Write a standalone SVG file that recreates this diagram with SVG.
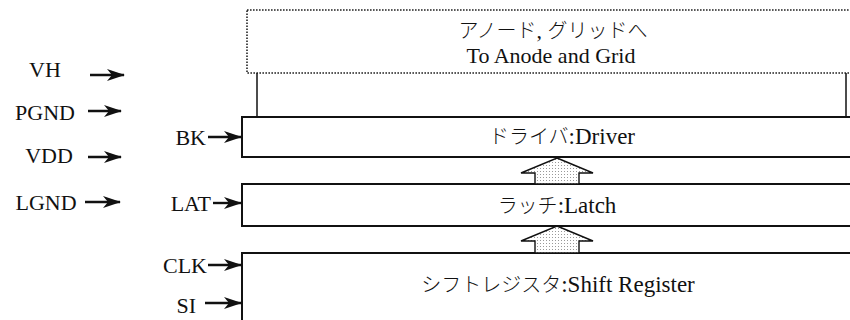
<svg xmlns="http://www.w3.org/2000/svg" width="850" height="320" viewBox="0 0 850 320">
  <style>
    .t { font-family: "Liberation Serif", "Noto Sans CJK JP", serif; font-size: 22px; fill: #111; }
    .b { font-size: 23px; }
    .jp { font-family: "Noto Sans CJK JP", sans-serif; font-size: 20px; font-weight: 300; }
    .box { fill: #fff; stroke: #111; stroke-width: 2; }
    .dot { fill: #fff; stroke: #222; stroke-width: 1.6; stroke-dasharray: 1.6 1.4; }
    .wire { fill: none; stroke: #111; stroke-width: 1.5; }
    .in { fill: none; stroke: #111; stroke-width: 2.4; marker-end: url(#ah); }
    .fat { fill: url(#dots); stroke: #111; stroke-width: 1.4; }
  </style>
  <defs>
    <marker id="ah" viewBox="0 0 18 12" refX="17" refY="6" markerWidth="18" markerHeight="12" markerUnits="userSpaceOnUse" orient="auto">
      <path d="M0,0 L18,6 L0,12 L5,6 z" fill="#111"/>
    </marker>
    <pattern id="dots" width="3" height="3" patternUnits="userSpaceOnUse">
      <rect width="3" height="3" fill="#fff"/>
      <rect width="1" height="1" fill="#999"/>
    </pattern>
  </defs>

  <g id="output">
    <rect class="dot" x="247" y="10" width="610" height="63"/>
    <text class="t" x="553" y="38" text-anchor="middle"><tspan class="jp">アノード</tspan>, <tspan class="jp">グリッドへ</tspan></text>
    <text class="t" x="551" y="63" text-anchor="middle">To Anode and Grid</text>
  </g>

  <g id="driver">
    <rect class="box" x="242" y="117" width="620" height="40"/>
    <text class="t b" x="562" y="144" text-anchor="middle"><tspan class="jp">ドライバ</tspan>:Driver</text>
  </g>

  <g id="latch">
    <rect class="box" x="242" y="184" width="620" height="42"/>
    <text class="t b" x="557" y="213" text-anchor="middle"><tspan class="jp">ラッチ</tspan>:Latch</text>
  </g>

  <g id="shift">
    <rect class="box" x="242" y="253" width="620" height="80"/>
    <text class="t b" x="558" y="292" text-anchor="middle"><tspan class="jp">シフトレジスタ</tspan>:Shift Register</text>
  </g>

  <g id="labels">
    <text class="t" x="45" y="77" text-anchor="middle">VH</text>
    <text class="t" x="45" y="120" text-anchor="middle">PGND</text>
    <text class="t" x="49" y="163" text-anchor="middle">VDD</text>
    <text class="t" x="46" y="210" text-anchor="middle">LGND</text>
    <text class="t" x="206" y="145" text-anchor="end">BK</text>
    <text class="t" x="211" y="211" text-anchor="end">LAT</text>
    <text class="t" x="207" y="273" text-anchor="end">CLK</text>
    <text class="t" x="196" y="313" text-anchor="end">SI</text>
  </g>

  <g id="connectors">
    <line class="wire" x1="257" y1="73" x2="257" y2="117"/>
    <line class="wire" x1="846" y1="73" x2="846" y2="117"/>
    <polygon class="fat" points="557,158 593,173 579,173 579,184 535,184 535,173 521,173"/>
    <polygon class="fat" points="557,226 593,241 579,241 579,253 535,253 535,241 521,241"/>
    <line class="in" x1="90" y1="75" x2="124" y2="75"/>
    <line class="in" x1="88" y1="111" x2="121" y2="111"/>
    <line class="in" x1="88" y1="157" x2="121" y2="157"/>
    <line class="in" x1="85" y1="202" x2="120" y2="202"/>
    <line class="in" x1="208" y1="137" x2="241" y2="137"/>
    <line class="in" x1="213" y1="203" x2="241" y2="203"/>
    <line class="in" x1="208" y1="265" x2="241" y2="265"/>
    <line class="in" x1="205" y1="303" x2="241" y2="303"/>
  </g>
</svg>
